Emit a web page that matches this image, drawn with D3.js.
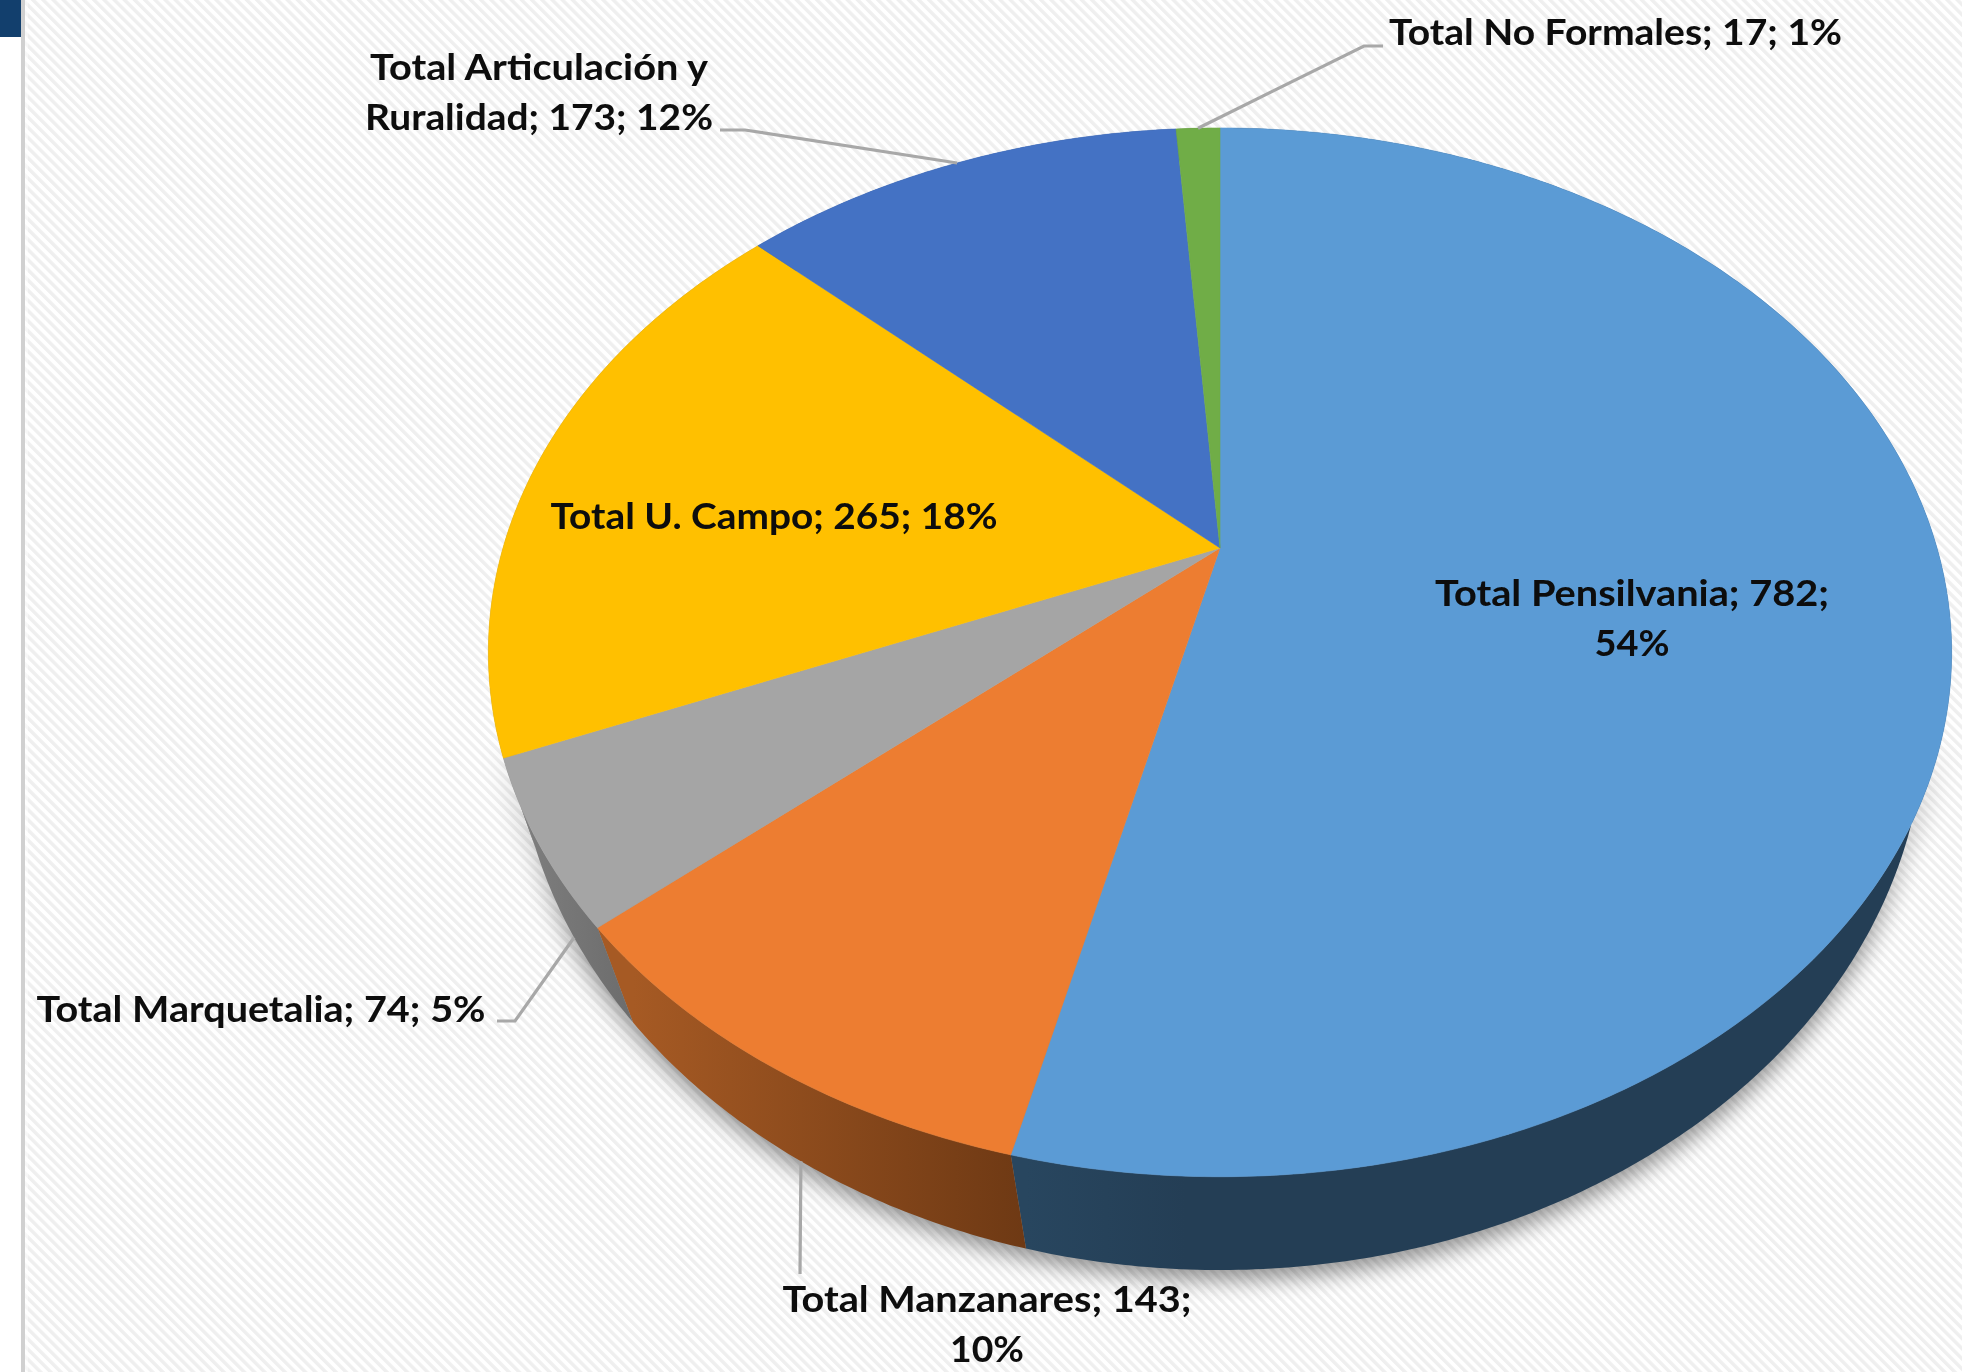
<!DOCTYPE html>
<html><head><meta charset="utf-8">
<script src="https://cdnjs.cloudflare.com/ajax/libs/d3/7.8.5/d3.min.js"></script>
<style>html,body{margin:0;padding:0;background:#fff;overflow:hidden}svg{display:block}</style>
</head><body>
<script>
// ---- data ----
const categories = ["Total Pensilvania","Total Manzanares","Total Marquetalia","Total U. Campo","Total Articulación y Ruralidad","Total No Formales"];
const seriesValues = [782,143,74,265,173,17];
const percentLabels = [54,10,5,18,12,1];
const topColors = ["#5b9bd5","#ed7d31","#a5a5a5","#ffc000","#4472c4","#70ad47"];
const wallColorsFrom = ["#28465f","#a65a24","#7c7c7c","#808080","#264478","#43682b"];
const wallColorsTo = ["#243e55","#6e3914","#6c6c6c","#808080","#264478","#43682b"];

// ---- layout of the labels, separate from the data ----
const wordsOnFirstLine = [3,3,99,99,3,99];
const labelX = [1632,987,261,774,539,1615.5];
const labelY = [606,1312,1022,529,80,45];
const labelWidths = [[394,75],[409,74],[449],[447],[338,348],[453]];
const leaderPaths = [null,[[800,1274]],[[515,1021],[497,1021]],null,[[745,130],[720,130]],[[1364,46],[1383,46]]];
const leaderOnLowerRim = [false,true,true,false,false,false];

const W=1962,H=1372;
// perspective projection of the unit disc onto the page
const upper={k:-0.199,x:d3.scaleLinear().domain([0,1]).range([1220,1220+717]),y:d3.scaleLinear().domain([0,1]).range([548,548+503.6])};
const lower={k:-0.16,x:d3.scaleLinear().domain([0,1]).range([1220,1220+696]),y:d3.scaleLinear().domain([0,1]).range([626,626+541])};
const project=(rim,a,r=1)=>{const px=r*Math.sin(a),py=-r*Math.cos(a),d=1+rim.k*py;return [rim.x(px/d),rim.y(py/d)];};

const pie=d3.pie().sort(null).value(d=>d)(seriesValues);
const arcAngles=(s)=>{const n=Math.max(4,Math.ceil((s.endAngle-s.startAngle)/0.01));return d3.range(n+1).map(i=>s.startAngle+(s.endAngle-s.startAngle)*i/n);};

const svg=d3.select("body").append("svg").attr("width",W).attr("height",H);
const defs=svg.append("defs");
const pat=defs.append("pattern").attr("id","hatch").attr("patternUnits","userSpaceOnUse").attr("width",7.2).attr("height",7.2).attr("patternTransform","rotate(-45)");
pat.append("rect").attr("width",7.2).attr("height",7.2).attr("fill","#ffffff");
pat.append("rect").attr("width",3.4).attr("height",7.2).attr("fill","#efefef");
defs.append("filter").attr("id","soft").attr("x","-10%").attr("y","-10%").attr("width","120%").attr("height","120%").append("feGaussianBlur").attr("stdDeviation",0.7);
defs.append("filter").attr("id","shadow").attr("x","-10%").attr("y","-10%").attr("width","120%").attr("height","120%").append("feGaussianBlur").attr("stdDeviation",11);
defs.append("filter").attr("id","txt").append("feGaussianBlur").attr("stdDeviation",0.55);
// the shadow only shows on the lower part of the solid
const fade=defs.append("linearGradient").attr("id","shadowFade").attr("gradientUnits","userSpaceOnUse").attr("x1",0).attr("x2",0).attr("y1",740).attr("y2",960);
fade.append("stop").attr("offset",0).attr("stop-color","#000");
fade.append("stop").attr("offset",1).attr("stop-color","#fff");
defs.append("mask").attr("id","shadowMask").attr("maskUnits","userSpaceOnUse").attr("x",0).attr("y",0).attr("width",W).attr("height",H)
  .append("rect").attr("width",W).attr("height",H).attr("fill","url(#shadowFade)");

svg.append("rect").attr("width",W).attr("height",H).attr("fill","#fff");
svg.append("rect").attr("x",25).attr("y",0).attr("width",W-25).attr("height",H).attr("fill","url(#hatch)").attr("filter","url(#soft)");
svg.append("rect").attr("x",25).attr("y",0).attr("width",3).attr("height",H).attr("fill","#fff").attr("opacity",0.5);
svg.append("rect").attr("x",21).attr("y",0).attr("width",4).attr("height",H).attr("fill","#d0d0d0");
svg.append("rect").attr("x",0).attr("y",0).attr("width",21).attr("height",37).attr("fill","#123f6d");

const line=d3.line();
const fullCircle=d3.range(0,Math.PI*2+0.01,0.01);
// drop shadow under the solid
const sh=svg.append("g").attr("mask","url(#shadowMask)").append("g").attr("filter","url(#shadow)").attr("fill","#000").attr("opacity",0.42);
sh.append("path").attr("d",line(fullCircle.map(a=>project(lower,a)))+"Z").attr("transform","translate(0,10)");
sh.append("path").attr("d",line(fullCircle.map(a=>project(upper,a)))+"Z").attr("transform","translate(0,20)");

// walls
const grads=pie.map((s,i)=>{
  const xs=arcAngles(s).map(a=>project(lower,a)[0]);
  const g=defs.append("linearGradient").attr("id","wall"+i).attr("gradientUnits","userSpaceOnUse")
    .attr("x1",d3.min(xs)).attr("x2",d3.min(xs)+(i===0?160:d3.max(xs)-d3.min(xs))).attr("y1",0).attr("y2",0);
  if(i===0){ // blue wall runs rightwards from the seam
    g.attr("x1",project(lower,s.endAngle)[0]).attr("x2",project(lower,s.endAngle)[0]+160);
  }
  g.append("stop").attr("offset",0).attr("stop-color",wallColorsFrom[i]);
  g.append("stop").attr("offset",1).attr("stop-color",wallColorsTo[i]);
  return "url(#wall"+i+")";
});
svg.append("g").selectAll("path").data(pie).join("path")
  .attr("d",s=>{const A=arcAngles(s);return line(A.map(a=>project(upper,a)).concat(A.slice().reverse().map(a=>project(lower,a))))+"Z";})
  .attr("fill",(s,i)=>grads[i]);

// top face
svg.append("g").selectAll("path").data(pie).join("path")
  .attr("d",s=>line([project(upper,0,0)].concat(arcAngles(s).map(a=>project(upper,a))))+"Z")
  .attr("fill",(s,i)=>topColors[i]).attr("stroke",(s,i)=>topColors[i]).attr("stroke-width",0.6);

// leaders
svg.append("g").attr("fill","none").attr("stroke","#a8a8a8").attr("stroke-width",3.2)
  .selectAll("path").data(pie.filter((s,i)=>leaderPaths[i])).join("path")
  .attr("d",s=>{const i=s.index;const mid=(s.startAngle+s.endAngle)/2;
    return line([project(leaderOnLowerRim[i]?lower:upper,mid)].concat(leaderPaths[i]));});

// labels
const g=svg.append("g").attr("font-family","Lato, 'Open Sans', sans-serif").attr("font-weight",700).attr("font-size",37).attr("fill","#0a0a0a").attr("text-anchor","middle").attr("filter","url(#txt)");
categories.forEach((c,i)=>{
  const words=`${c}; ${seriesValues[i]}; ${percentLabels[i]}%`.split(" ");
  const n=wordsOnFirstLine[i];
  const lines=words.length>n?[words.slice(0,n).join(" "),words.slice(n).join(" ")]:[words.join(" ")];
  lines.forEach((t,j)=>g.append("text").attr("x",labelX[i]).attr("y",labelY[i]+j*50)
    .attr("textLength",labelWidths[i][j]).attr("lengthAdjust","spacingAndGlyphs").text(t));
});
</script>
</body></html>
